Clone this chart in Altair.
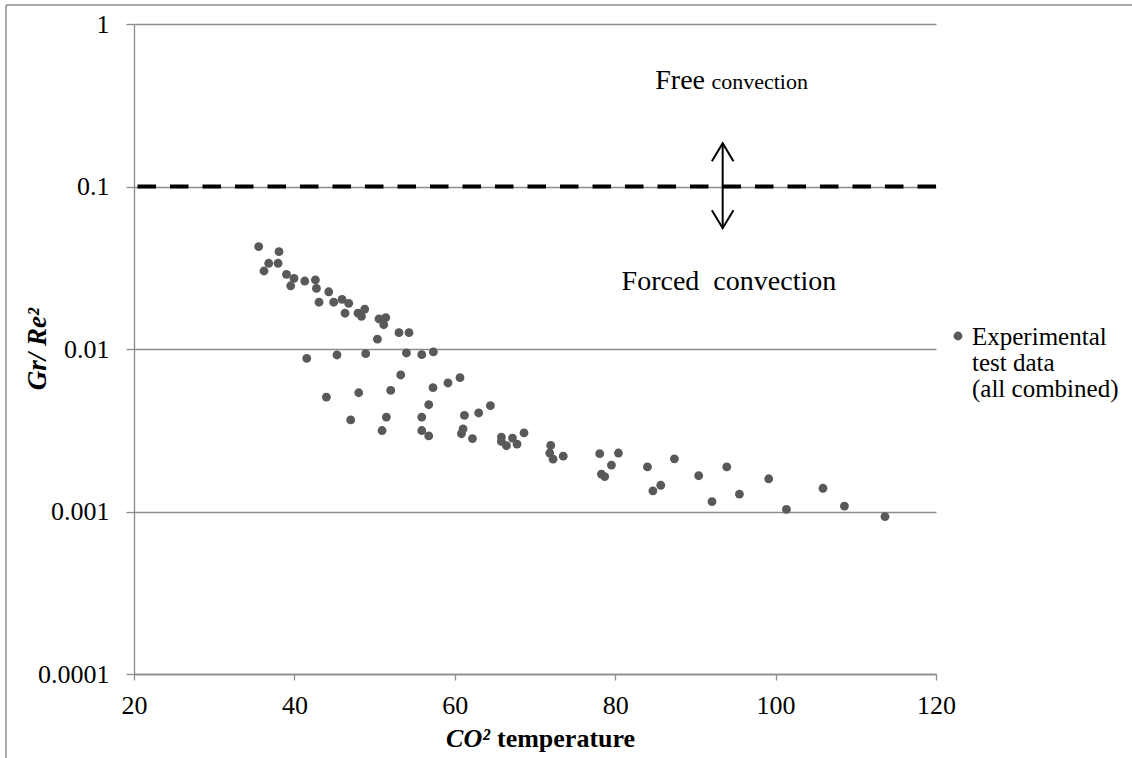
import altair as alt
import pandas as pd

# CO2 temperature (x) and Gr/Re^2 (y) for the combined test runs
temperature = [
    35.55, 38.08, 36.80, 37.96, 36.21, 39.01, 39.95, 39.54, 41.29, 42.62,
    42.75, 44.28, 43.07, 44.90, 45.94, 46.77, 46.31, 47.93, 41.54, 45.31,
    43.99, 48.02, 48.36, 48.77, 50.55, 51.39, 51.14, 50.35, 53.04, 54.29,
    48.89, 53.97, 55.88, 57.33, 53.26, 52.01, 57.28, 59.15, 60.65, 56.75,
    64.44, 47.02, 51.47, 50.93, 55.88, 55.88, 56.75, 61.20, 62.98, 61.03,
    60.83, 62.20, 65.81, 65.81, 66.44, 67.19, 67.76, 68.63, 71.96, 71.84,
    72.25, 73.52, 78.07, 80.40, 79.53, 78.28, 78.69, 84.02, 87.38, 84.70,
    85.68, 90.41, 93.91, 92.07, 95.49, 99.14, 101.35, 105.91, 108.58, 113.64,
]
gr_re2 = [
    0.0427, 0.0397, 0.0337, 0.0337, 0.0302, 0.0288, 0.0272, 0.0245, 0.0262, 0.0266,
    0.0236, 0.0225, 0.0194, 0.0194, 0.0202, 0.0191, 0.0166, 0.0166, 0.00875, 0.00919,
    0.00506, 0.00538, 0.0159, 0.0176, 0.0153, 0.0156, 0.0141, 0.0115, 0.0126, 0.0126,
    0.00936, 0.00945, 0.00923, 0.00959, 0.00692, 0.00556, 0.00578, 0.00618, 0.00666, 0.00454,
    0.00448, 0.00366, 0.00381, 0.00315, 0.00381, 0.00315, 0.00292, 0.00390, 0.00404, 0.00322,
    0.00301, 0.00281, 0.00287, 0.00270, 0.00254, 0.00283, 0.00260, 0.00305, 0.00255, 0.00229,
    0.00210, 0.00219, 0.00227, 0.00229, 0.00193, 0.00170, 0.00164, 0.00188, 0.00211, 0.00134,
    0.00145, 0.00166, 0.00188, 0.00115, 0.00128, 0.00159, 0.00103, 0.00139, 0.00108, 0.00093,
]

x_ticks = [20, 40, 60, 80, 100, 120]
y_ticks = [0.0001, 0.001, 0.01, 0.1, 1]

threshold = 0.1                      # Gr/Re^2 boundary between regimes
arrow_t = [93.4, 93.4]
arrow_ratio = [0.0554, 0.1846]

legend_lines = ["Experimental", "test data", "(all combined)"]

FONT = "'Liberation Serif', 'Times New Roman', 'DejaVu Serif', serif"
GREY = "#8c8c8c"
DOT = "#595959"
W, H = 802, 650

df = pd.DataFrame({"t": temperature, "ratio": gr_re2})
one = pd.DataFrame({"k": [0]})

x_scale = alt.Scale(domain=[20, 120], nice=False, zero=False)
y_scale = alt.Scale(type="log", domain=[0.0001, 1], nice=False)

x_axis = alt.Axis(
    values=x_ticks, grid=False, title=None, labelFlush=False, labelOverlap=False,
    domainColor=GREY, domainWidth=1.3, tickColor=GREY, tickWidth=1.3, tickSize=6,
    labelPadding=12, labelFont=FONT, labelFontSize=26, labelColor="black",
)
y_axis = alt.Axis(
    values=y_ticks, format="~g", grid=True, gridColor=GREY, gridWidth=1.3, gridOpacity=1,
    title=None, labelFlush=False, labelOverlap=False,
    domainColor=GREY, domainWidth=1.3, tickColor=GREY, tickWidth=1.3, tickSize=8,
    labelPadding=17, labelFont=FONT, labelFontSize=26, labelColor="black",
)

points = alt.Chart(df).mark_circle(size=78, color=DOT, opacity=1).encode(
    x=alt.X("t:Q", scale=x_scale, axis=x_axis),
    y=alt.Y("ratio:Q", scale=y_scale, axis=y_axis),
)

dashed = alt.Chart(pd.DataFrame({"ratio": [threshold]})).mark_rule(
    color="black", strokeWidth=4, strokeDash=[18.5, 14]
).encode(y=alt.Y("ratio:Q", scale=y_scale))

arrow_df = pd.DataFrame({"t": arrow_t, "ratio": arrow_ratio})
arrow_shaft = alt.Chart(arrow_df).mark_line(color="black", strokeWidth=2).encode(
    x=alt.X("t:Q", scale=x_scale), y=alt.Y("ratio:Q", scale=y_scale)
)
head_up = alt.Chart(arrow_df.iloc[[1]]).mark_point(
    shape="M -0.6 1 L 0 0 L 0.6 1", filled=False, size=1296, strokeWidth=2,
    color="black", opacity=1,
).encode(x=alt.X("t:Q", scale=x_scale), y=alt.Y("ratio:Q", scale=y_scale))
head_down = alt.Chart(arrow_df.iloc[[0]]).mark_point(
    shape="M -0.6 -1 L 0 0 L 0.6 -1", filled=False, size=1296, strokeWidth=2,
    color="black", opacity=1,
).encode(x=alt.X("t:Q", scale=x_scale), y=alt.Y("ratio:Q", scale=y_scale))


def data_text(text, t, ratio, size):
    return alt.Chart(one).mark_text(
        text=text, font=FONT, fontSize=size, color="black", align="left",
        baseline="alphabetic",
    ).encode(x=alt.X("t:Q", scale=x_scale), y=alt.Y("ratio:Q", scale=y_scale)).transform_calculate(
        t=str(t), ratio=str(ratio)
    )


def px_text(text, x, y, size, weight="normal", style="normal", align="left",
            baseline="alphabetic", angle=0):
    return alt.Chart(one).mark_text(
        text=text, font=FONT, fontSize=size, fontWeight=weight, fontStyle=style,
        color="black", align=align, baseline=baseline, angle=angle,
    ).encode(x=alt.value(x), y=alt.value(y))


free_a = data_text("Free", 85.0, 0.398, 28)
free_b = data_text("convection", 92.0, 0.398, 22)
forced = data_text("Forced\u00a0 convection", 80.8, 0.0231, 28)

# axis title split in two runs: italic symbol, upright word
x_title_a = px_text("CO\u00b2", 490 - 134, 746.7 - 24, 26, weight="bold", style="italic",
                    align="right")
x_title_b = px_text("temperature", 497 - 134, 746.7 - 24, 26, weight="bold")
y_title = px_text("Gr/ Re\u00b2", 38 - 134, 349 - 24, 27, weight="bold", style="italic",
                  align="center", baseline="middle", angle=270)

legend_dot = alt.Chart(one).mark_circle(size=78, color=DOT, opacity=1).encode(
    x=alt.value(958 - 134), y=alt.value(336 - 24)
)
legend_text = [
    px_text(line, 972 - 134, 345.2 - 24 + 26 * i, 25) for i, line in enumerate(legend_lines)
]

frame_top = alt.Chart(one).mark_rule(color=GREY, strokeWidth=1.5).encode(
    x=alt.value(-128), x2=alt.value(1132 - 134), y=alt.value(-19)
)
frame_left = alt.Chart(one).mark_rule(color=GREY, strokeWidth=1.5).encode(
    x=alt.value(-128), y=alt.value(-19), y2=alt.value(758 - 24)
)

chart = alt.layer(
    frame_top, frame_left, points, dashed, arrow_shaft, head_up, head_down,
    free_a, free_b, forced, x_title_a, x_title_b, y_title, legend_dot, *legend_text,
).properties(
    width=W, height=H,
    autosize=alt.AutoSizeParams(type="none"),
    padding={"left": 134, "top": 24, "right": 1132 - 134 - W, "bottom": 758 - 24 - H},
    background="white",
).configure_view(strokeWidth=0)

chart.save("out.html", embed_options={"renderer": "svg", "actions": False})
